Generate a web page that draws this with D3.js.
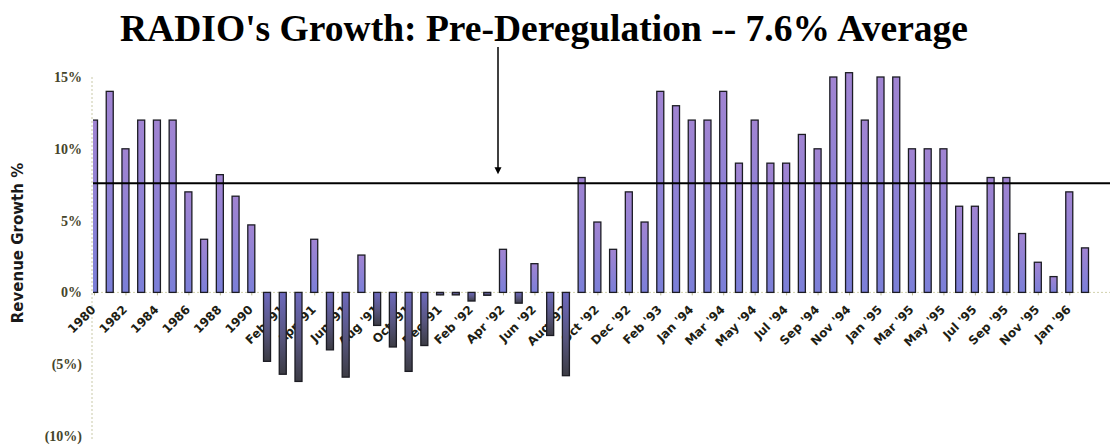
<!DOCTYPE html>
<html>
<head>
<meta charset="utf-8">
<script src="https://cdn.jsdelivr.net/npm/d3@7"></script>
<style>
  body { margin: 0; background: #fff; }
  svg { display: block; }
</style>
</head>
<body>
<svg width="1116" height="446"></svg>
<script>
// the data
var periods = ["1980", "1981", "1982", "1983", "1984", "1985", "1986", "1987", "1988", "1989", "1990",
  "Jan '91", "Feb '91", "Mar '91", "Apr '91", "May '91", "Jun '91", "Jul '91", "Aug '91", "Sep '91", "Oct '91", "Nov '91", "Dec '91",
  "Jan '92", "Feb '92", "Mar '92", "Apr '92", "May '92", "Jun '92", "Jul '92", "Aug '92", "Sep '92", "Oct '92", "Nov '92", "Dec '92",
  "Jan '93", "Feb '93", "Dec '93",
  "Jan '94", "Feb '94", "Mar '94", "Apr '94", "May '94", "Jun '94", "Jul '94", "Aug '94", "Sep '94", "Oct '94", "Nov '94", "Dec '94",
  "Jan '95", "Feb '95", "Mar '95", "Apr '95", "May '95", "Jun '95", "Jul '95", "Aug '95", "Sep '95", "Oct '95", "Nov '95", "Dec '95",
  "Jan '96", "Feb '96"];

var growth = [12, 14, 10, 12, 12, 12, 7, 3.7, 8.2, 6.7, 4.7,
  -4.8, -5.7, -6.2, 3.7, -4.0, -5.9, 2.6, -2.3, -3.8, -5.5, -3.7, -0.15,
  -0.15, -0.6, -0.2, 3.0, -0.75, 2.0, -3.0, -5.8, 8, 4.9, 3, 7,
  4.9, 14, 13,
  12, 12, 14, 9, 12, 9, 9, 11, 10, 15, 15.3, 12,
  15, 15, 10, 10, 10, 6, 6, 8, 8, 4.1, 2.1, 1.1,
  7, 3.1];

var average = 7.6;

var yTicks = [15, 10, 5, 0, -5, -10];
var yTickLabels = ["15%", "10%", "5%", "0%", "(5%)", "(10%)"];

// only every other period gets a label
var labelled = periods.filter(function(d, i) { return i % 2 == 0; });

var svg = d3.select("svg"),
    width = +svg.attr("width"),
    height = +svg.attr("height");

var left = 93, right = 1110;

var x = d3.scalePoint()
    .domain(periods)
    .range([94, 1085]);

var y = d3.scaleLinear()
    .domain([-10, 15])
    .range([436, 77]);

var defs = svg.append("defs");

var pos = defs.append("linearGradient").attr("id", "posFill")
    .attr("x1", 0).attr("y1", 0).attr("x2", 0).attr("y2", 1);
pos.append("stop").attr("offset", "0%").attr("stop-color", "#a184d2");
pos.append("stop").attr("offset", "100%").attr("stop-color", "#7b7fd8");

var neg = defs.append("linearGradient").attr("id", "negFill")
    .attr("x1", 0).attr("y1", 0).attr("x2", 0).attr("y2", 1);
neg.append("stop").attr("offset", "0%").attr("stop-color", "#6d69bd");
neg.append("stop").attr("offset", "55%").attr("stop-color", "#57557e");
neg.append("stop").attr("offset", "100%").attr("stop-color", "#3c3c44");

defs.append("clipPath").attr("id", "plotClip")
  .append("rect")
    .attr("x", left).attr("y", 0)
    .attr("width", right - left).attr("height", height);

// title
svg.append("text")
    .attr("x", 544)
    .attr("y", 41)
    .attr("text-anchor", "middle")
    .attr("textLength", 848)
    .attr("lengthAdjust", "spacingAndGlyphs")
    .style("font-family", "'Liberation Serif', 'Times New Roman', serif")
    .style("font-weight", "bold")
    .style("font-size", "37px")
    .style("fill", "#000")
    .text("RADIO's Growth: Pre-Deregulation -- 7.6% Average");

// y axis
var yAxis = d3.axisLeft(y)
    .tickValues(yTicks)
    .tickSize(0)
    .tickPadding(10)
    .tickFormat(function(d, i) { return yTickLabels[i]; });

var yg = svg.append("g")
    .attr("transform", "translate(" + (left - 1) + ",0)")
    .call(yAxis);

yg.select(".domain")
    .attr("d", "M0," + y(15) + "V" + (y(-10) + 4))
    .style("stroke", "#c9c9a8")
    .style("stroke-dasharray", "2,2");

yg.selectAll("text")
    .style("font-family", "'Liberation Serif', 'Times New Roman', serif")
    .style("font-weight", "bold")
    .style("font-size", "14px")
    .style("fill", "#45452a");

svg.append("text")
    .attr("transform", "translate(23," + 243 + ") rotate(-90)")
    .attr("text-anchor", "middle")
    .style("font-family", "'DejaVu Sans', sans-serif")
    .style("font-weight", "bold")
    .style("font-size", "15px")
    .style("fill", "#1a1a1a")
    .text("Revenue Growth %");

// zero line, faint
var xAxis = d3.axisBottom(x)
    .tickValues(labelled)
    .tickSize(3)
    .tickPadding(6);

var xg = svg.append("g")
    .attr("transform", "translate(0," + y(0) + ")")
    .call(xAxis);

xg.select(".domain")
    .attr("d", "M" + left + ",0H" + right)
    .style("stroke", "#d2d2ae")
    .style("stroke-dasharray", "2,2");

xg.selectAll(".tick line").style("stroke", "#b8b890");

xg.selectAll("text")
    .attr("text-anchor", "end")
    .attr("x", 0)
    .attr("y", 0)
    .attr("dy", "0.35em")
    .attr("transform", "translate(-1,15) rotate(-45)")
    .style("font-family", "'DejaVu Sans', sans-serif")
    .style("font-weight", "bold")
    .style("font-size", "12px")
    .style("fill", "#1e1e14");

// bars, drawn over the labels
var barW = 7;
svg.append("g")
    .attr("clip-path", "url(#plotClip)")
  .selectAll("rect")
  .data(growth)
  .enter()
  .append("rect")
    .attr("x", function(d, i) { return x(periods[i]) - barW / 2; })
    .attr("y", function(d) { return d >= 0 ? y(d) : y(0); })
    .attr("width", barW)
    .attr("height", function(d) { return Math.max(2.5, Math.abs(y(d) - y(0))); })
    .style("fill", function(d) { return d >= 0 ? "url(#posFill)" : "url(#negFill)"; })
    .style("stroke", "#1c1c24")
    .style("stroke-width", 1.3);

// average line
svg.append("line")
    .attr("x1", left)
    .attr("x2", right)
    .attr("y1", y(average))
    .attr("y2", y(average))
    .style("stroke", "#000")
    .style("stroke-width", 2);

// arrow from the title down to the average line
var arrowX = 498;
svg.append("line")
    .attr("x1", arrowX).attr("x2", arrowX)
    .attr("y1", 47).attr("y2", y(average) - 14)
    .style("stroke", "#000")
    .style("stroke-width", 1.5);

svg.append("path")
    .attr("d", "M" + (arrowX - 3.5) + "," + (y(average) - 16) +
               "L" + (arrowX + 3.5) + "," + (y(average) - 16) +
               "L" + arrowX + "," + (y(average) - 9) + "Z")
    .style("fill", "#000");
</script>
</body>
</html>
